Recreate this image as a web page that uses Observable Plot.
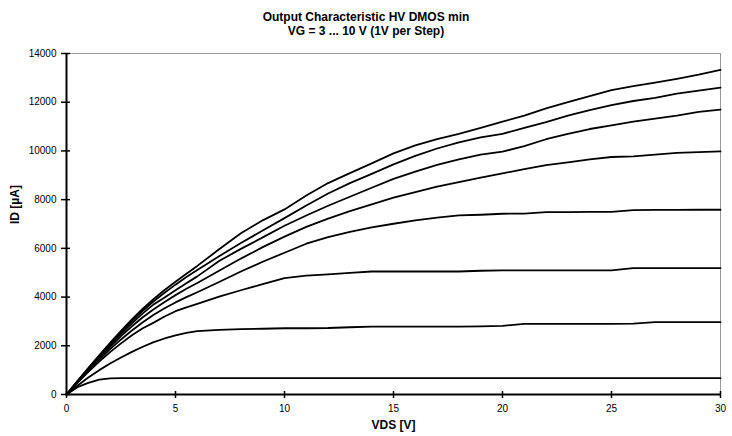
<!DOCTYPE html>
<html><head><meta charset="utf-8">
<script src="https://cdn.jsdelivr.net/npm/d3@7"></script>
<script src="https://cdn.jsdelivr.net/npm/@observablehq/plot@0.6"></script>
<style>
body{margin:0;background:#fff;font-family:"Liberation Sans",Arial,sans-serif;}
#title{width:732px;height:40px;box-sizing:border-box;padding-top:10px;text-align:center;font-weight:bold;font-size:12px;line-height:14px;color:#000;}
</style></head><body>
<div id="title"><div>Output Characteristic HV DMOS min</div><div>VG = 3 ... 10 V (1V per Step)</div></div>
<div id="chart"></div>
<script>
const vds = [0,0.5,1,1.5,2,2.5,3,3.5,4,4.5,5,5.5,6,7,8,9,10,11,12,13,14,15,16,17,18,19,20,21,22,23,24,25,26,27,28,29,30];
const id_vg3  = [0,300,480,610,660,670,670,670,670,670,670,670,670,670,670,670,670,670,670,670,670,670,670,670,670,670,670,670,670,670,670,670,670,670,670,670,670];
const id_vg4  = [0,360,700,1000,1270,1520,1750,1960,2150,2300,2430,2530,2600,2650,2680,2700,2720,2720,2730,2760,2790,2790,2790,2790,2790,2800,2820,2900,2900,2900,2900,2900,2910,2970,2970,2970,2970];
const id_vg5  = [0,480,930,1350,1740,2100,2430,2720,2950,3200,3420,3580,3720,4020,4280,4530,4780,4880,4930,4990,5050,5050,5050,5050,5050,5080,5100,5100,5100,5100,5100,5100,5190,5190,5190,5190,5190];
const id_vg6  = [0,500,980,1430,1860,2260,2630,2970,3270,3540,3780,4000,4200,4620,5050,5450,5820,6190,6460,6680,6860,7010,7150,7260,7350,7380,7420,7430,7490,7490,7500,7500,7570,7580,7580,7585,7585];
const id_vg7  = [0,520,1020,1500,1960,2400,2800,3170,3500,3800,4080,4340,4580,5080,5580,6050,6480,6880,7220,7530,7810,8080,8310,8530,8720,8900,9080,9250,9420,9530,9650,9750,9780,9850,9920,9950,9980];
const id_vg8  = [0,530,1050,1550,2030,2490,2920,3330,3700,3980,4280,4570,4850,5480,5980,6450,6930,7350,7750,8120,8490,8850,9150,9430,9650,9850,9970,10200,10480,10700,10900,11050,11200,11330,11450,11600,11700];
const id_vg9  = [0,540,1070,1580,2080,2560,3010,3440,3830,4180,4510,4820,5110,5680,6220,6730,7240,7760,8250,8680,9060,9450,9800,10100,10350,10560,10700,10950,11180,11450,11680,11880,12050,12180,12350,12480,12600];
const id_vg10 = [0,550,1090,1610,2120,2610,3080,3520,3920,4290,4630,4960,5280,5960,6620,7150,7600,8170,8680,9090,9490,9900,10230,10480,10700,10950,11200,11450,11750,12000,12250,12500,12660,12800,12960,13130,13330];
const vgSteps = [3,4,5,6,7,8,9,10];
const xTicks = [0,5,10,15,20,25,30];
const yTicks = [0,2000,4000,6000,8000,10000,12000,14000];
const xLabel = "VDS [V]";
const yLabel = "ID [µA]";

const seriesValues = [id_vg3,id_vg4,id_vg5,id_vg6,id_vg7,id_vg8,id_vg9,id_vg10];
const rows = [];
vgSteps.forEach((vg,i) => seriesValues[i].forEach((v,j) => rows.push({vg, vds: vds[j], id: v})));

const chart = Plot.plot({
  width: 732,
  height: 396,
  marginLeft: 66,
  marginRight: 12,
  marginTop: 13,
  marginBottom: 42,
  style: {fontFamily: '"Liberation Sans", Arial, sans-serif', fontSize: "10px", color: "#000", background: "#fff"},
  x: {domain: [0,30]},
  y: {domain: [0,14000]},
  marks: [
    Plot.frame({stroke: "#999"}),
    Plot.axisX({ticks: xTicks, tickSize: 4, tickPadding: 6, label: null, stroke: "#000", strokeWidth: 1.5}),
    Plot.axisY({ticks: yTicks, tickSize: 5, tickPadding: 5, label: null, stroke: "#000", strokeWidth: 1.5, tickFormat: d => String(d)}),
    Plot.tickX(xTicks, {x: d => d, insetTop: 338, stroke: "#000", strokeWidth: 1.5}),
    Plot.tickY(yTicks, {y: d => d, insetRight: 650, stroke: "#000", strokeWidth: 1.5}),
    Plot.line(rows, {x: "vds", y: "id", z: "vg", stroke: "#000", strokeWidth: 1.8}),
    Plot.ruleY([0], {stroke: "#000", strokeWidth: 2}),
    Plot.ruleX([0], {stroke: "#000", strokeWidth: 2}),
    Plot.text([xLabel], {frameAnchor: "bottom", dy: 34, text: d => d, fontWeight: "bold", fontSize: 12}),
    Plot.text([yLabel], {frameAnchor: "left", dx: -51, rotate: -90, text: d => d, fontWeight: "bold", fontSize: 12})
  ]
});
document.getElementById("chart").appendChild(chart);
</script>
</body></html>
